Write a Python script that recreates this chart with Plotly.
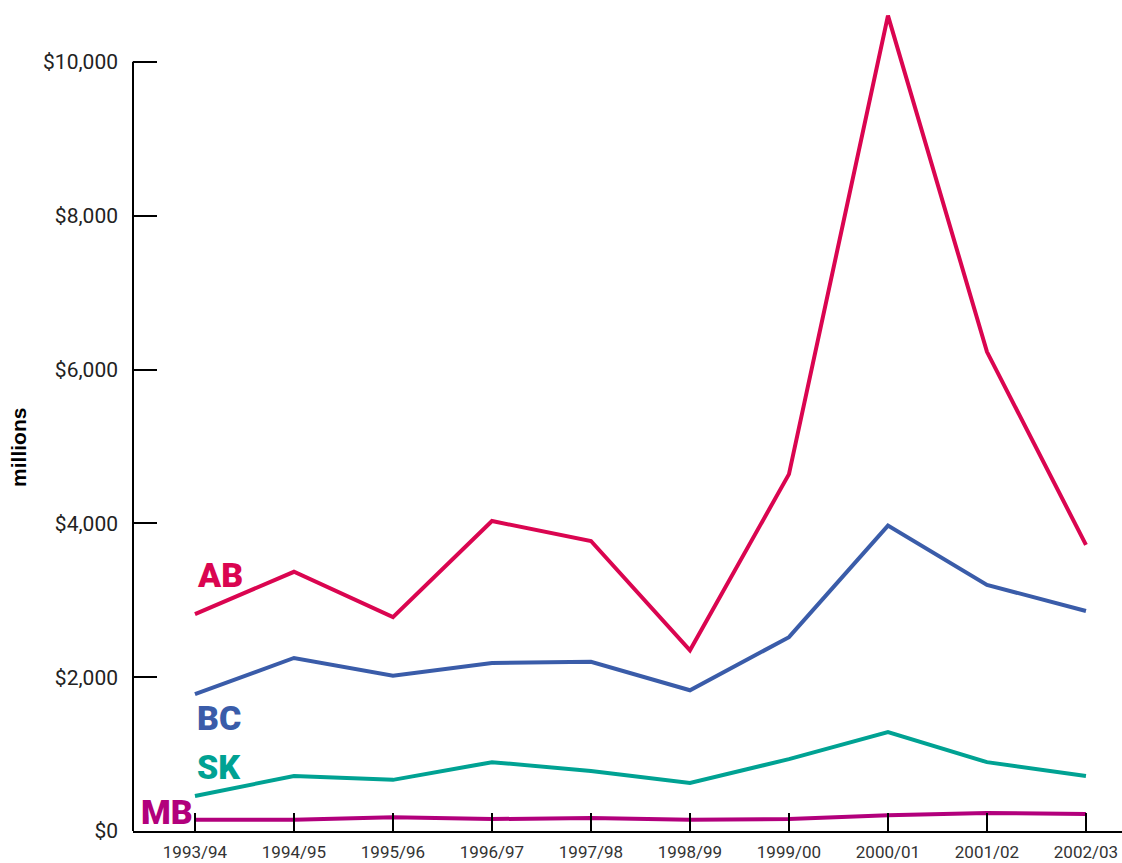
import plotly.graph_objects as go

years = ["1993/94", "1994/95", "1995/96", "1996/97", "1997/98",
         "1998/99", "1999/00", "2000/01", "2001/02", "2002/03"]
ab = [2820, 3370, 2780, 4030, 3770, 2350, 4640, 10600, 6230, 3720]
bc = [1780, 2250, 2020, 2185, 2200, 1830, 2520, 3970, 3200, 2860]
sk = [455, 715, 665, 895, 780, 625, 935, 1285, 895, 715]
mb = [145, 145, 180, 155, 170, 145, 155, 205, 235, 220]

y_ticks = [0, 2000, 4000, 6000, 8000, 10000]
y_labels = ["$0", "$2,000", "$4,000", "$6,000", "$8,000", "$10,000"]

series = [
    ("AB", ab, "#DA0550"),
    ("BC", bc, "#3A5CA9"),
    ("SK", sk, "#00A293"),
    ("MB", mb, "#B2007C"),
]

fig = go.Figure()
for name, vals, col in series:
    fig.add_trace(go.Scatter(x=years, y=vals, mode="lines", name=name,
                             line=dict(color=col, width=4), showlegend=False))

label_font = dict(family="Roboto", size=34, weight=900)
ann = [
    dict(text="AB", x=years[0], y=3330, xanchor="left", yanchor="middle",
         font=dict(**label_font, color="#DA0550")),
    dict(text="BC", x=years[0], y=1470, xanchor="left", yanchor="middle",
         font=dict(**label_font, color="#3A5CA9")),
    dict(text="SK", x=years[0], y=830, xanchor="left", yanchor="middle",
         font=dict(**label_font, color="#00A293")),
    dict(text="MB", x=years[0], y=250, xanchor="right", yanchor="middle",
         font=dict(**label_font, color="#B2007C")),
]
for a in ann:
    a.update(xref="x", yref="y", showarrow=False)
ann.append(dict(text="millions", xref="paper", yref="paper", x=-0.1153, y=0.4666,
                textangle=-90, showarrow=False, xanchor="center", yanchor="middle",
                font=dict(family="Liberation Sans", size=21, weight="bold", color="#000")))

fig.update_layout(
    width=1122, height=863,
    margin=dict(l=133, r=0, t=8, b=32),
    plot_bgcolor="white", paper_bgcolor="white",
    annotations=ann,
    shapes=[dict(type="line", xref="paper", yref="y", x0=0, x1=0, y0=0, y1=10000,
                 line=dict(color="black", width=2))],
    xaxis=dict(
        type="category", range=[-0.626, 9.364],
        showline=True, linecolor="black", linewidth=2,
        ticks="inside", ticklen=18, tickwidth=2, tickcolor="black",
        showgrid=False, zeroline=False,
        tickfont=dict(family="Roboto", size=17, color="#333"),
        ticklabelstandoff=5,
    ),
    yaxis=dict(
        range=[0, 10700],
        tickvals=y_ticks, ticktext=y_labels,
        ticks="inside", ticklen=24, tickwidth=2, tickcolor="black",
        showline=False, showgrid=False, zeroline=False,
        tickfont=dict(family="Roboto", size=21, color="#222"),
        ticklabelstandoff=14,
    ),
)

fig.write_html("out.html",
               config={"displayModeBar": False},
               post_script="document.body.style.margin='0';document.body.style.overflow='hidden';")
